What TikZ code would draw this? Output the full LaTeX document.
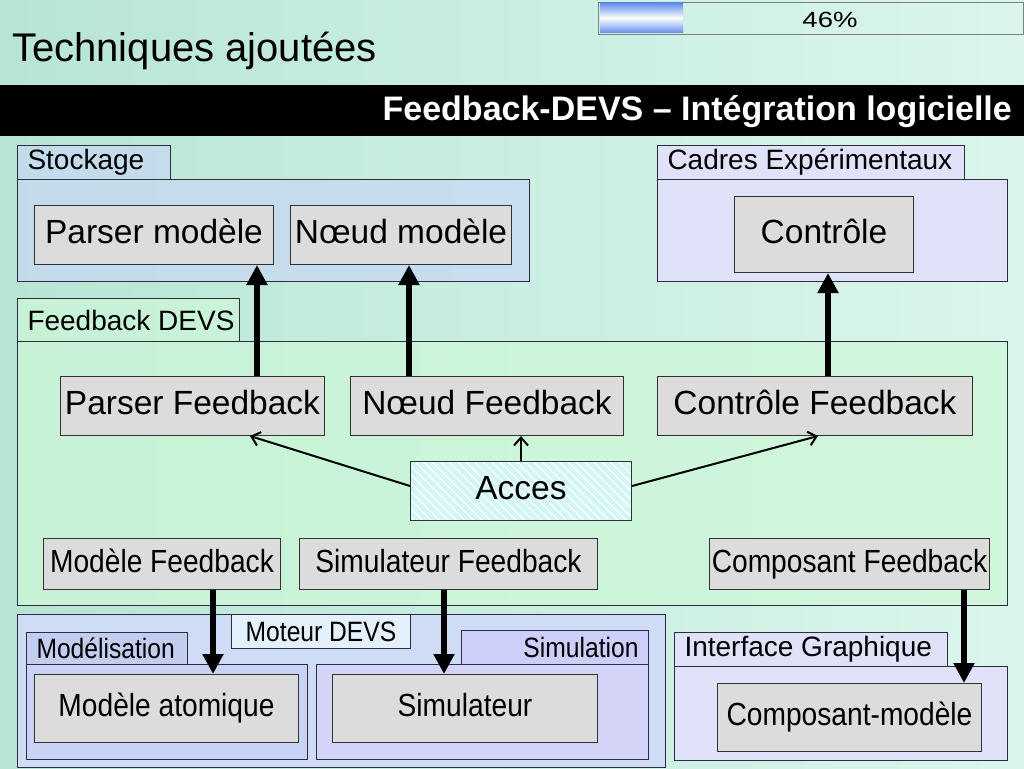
\documentclass[tikz,border=0pt]{standalone}
\usepackage{fontspec}
\setmainfont{Liberation Sans}
\newfontfamily\cfont[FakeStretch=0.88]{Liberation Sans}
\newfontfamily\wfont[FakeStretch=1.25]{Liberation Sans}
\usetikzlibrary{arrows.meta,patterns.meta,calc}
\newcommand\myfs[1]{\fontsize{#1pt}{#1pt}\selectfont}
\definecolor{bgA}{RGB}{165,216,200}
\definecolor{bgB}{RGB}{196,236,222}
\definecolor{bgC}{RGB}{226,248,240}
\definecolor{bgD}{RGB}{242,255,252}
\definecolor{stkc}{RGB}{200,215,245}
\definecolor{cadc}{RGB}{224,226,250}
\definecolor{fbc}{RGB}{205,248,215}
\definecolor{motc}{RGB}{206,220,246}
\definecolor{modc}{RGB}{200,210,245}
\definecolor{modtc}{RGB}{195,205,240}
\definecolor{simc}{RGB}{212,212,248}
\definecolor{simtc}{RGB}{206,206,250}
\definecolor{mottc}{RGB}{228,240,252}
\definecolor{igc}{RGB}{224,226,250}
\definecolor{boxgray}{RGB}{220,220,220}
\definecolor{boxline}{RGB}{50,50,50}
\definecolor{grpline}{RGB}{45,45,60}
\definecolor{accc}{RGB}{210,246,246}
\definecolor{barblue}{RGB}{95,140,235}
\pgfdeclarehorizontalshading{bgshade}{100bp}{color(0bp)=(bgA); color(42bp)=(bgB); color(85bp)=(bgC); color(100bp)=(bgD)}
\tikzset{
  grp/.style={draw=grpline, line width=1pt, anchor=north west, inner sep=0pt},
  tab/.style={draw=grpline, line width=1pt, anchor=north west, inner xsep=10pt, inner ysep=0pt, font=\myfs{28}},
  bx/.style={draw=boxline, line width=1pt, fill=boxgray, anchor=north west, inner sep=0pt, text height=24.5pt, text depth=7pt, font=\myfs{33.5}},
  sbx/.style={bx, text height=23.4pt, text depth=6.7pt, font=\cfont\myfs{32}},
  big/.style={line width=5.5pt, -{Triangle[length=20pt,width=20pt]}},
  thinarr/.style={line width=2pt, -{Straight Barb[length=8pt,width=14pt]}}
}
\begin{document}
\begin{tikzpicture}[x=1pt,y=-1pt]
\useasboundingbox (0,0) rectangle (1024,768);
\shade[shading=bgshade] (0,0) rectangle (1024,768);
% header
\node[anchor=base west, font=\myfs{40}, inner sep=0pt] (title) at (12,62) {Techniques ajoutées};
\fill[black] (0,85) rectangle (1024,136);
\node[anchor=base east, font=\bfseries\myfs{34}, text=white, inner sep=0pt] (sub) at (1012,120) {Feedback-DEVS -- Intégration logicielle};
% progress bar
\node[draw=gray, line width=1pt, anchor=north west, minimum width=425pt, minimum height=32pt, inner sep=0pt] (bar) at (598,2) {};
\shade[top color=barblue, bottom color=barblue, middle color=white] (600,3) rectangle (683,33);
\node[anchor=base, font=\wfont\myfs{22}, inner sep=0pt] (pct) at (830,28) {46\%};
% groups
\node[grp, fill=stkc, fill opacity=0.7, minimum width=512pt, minimum height=102pt] (stk) at (17,179) {};
\node[tab, fill=stkc, fill opacity=0.7, text opacity=1, minimum height=34pt] (stktab) at (17,145) {\makebox[133pt][l]{Stockage}};
\node[grp, fill=cadc, minimum width=350pt, minimum height=102pt] (cad) at (657,179) {};
\node[tab, fill=cadc, minimum height=34pt] (cadtab) at (657,145) {\makebox[287pt][l]{Cadres Expérimentaux}};
\node[grp, fill=fbc, fill opacity=0.7, minimum width=990pt, minimum height=264pt] (fbd) at (17,341) {};
\node[tab, fill=fbc, fill opacity=0.7, text opacity=1, inner xsep=10pt, minimum height=43pt] (fbdtab) at (17,298) {\makebox[202pt][l]{Feedback DEVS}};
\node[grp, fill=motc, minimum width=648pt, minimum height=153pt] (mot) at (17,614) {};
\node[grp, fill=modc, minimum width=281pt, minimum height=95pt] (modl) at (26,664) {};
\node[grp, fill=simc, minimum width=332pt, minimum height=95pt] (simu) at (316,664) {};
\node[tab, fill=modtc, font=\cfont\myfs{28}, minimum height=32pt] (modtab) at (26,632) {\makebox[141pt][l]{Modélisation}};
\node[tab, fill=simtc, font=\cfont\myfs{28}, minimum height=34pt] (simtab) at (461,630) {\makebox[167pt][r]{Simulation}};
\node[tab, fill=mottc, font=\cfont\myfs{28}, minimum height=34pt] (mottab) at (231,614) {\makebox[159pt][c]{Moteur DEVS}};
\node[grp, fill=igc, minimum width=333pt, minimum height=94pt] (ig) at (674,666) {};
\node[tab, fill=igc, minimum height=34pt] (igtab) at (674,632) {\makebox[253pt][l]{Interface Graphique}};
% boxes
\node[bx, minimum width=239pt, minimum height=59pt] (pm) at (34,205) {Parser modèle};
\node[bx, minimum width=221pt, minimum height=59pt] (nm) at (290,205) {Nœud modèle};
\node[bx, minimum width=179pt, minimum height=76pt] (ctl) at (734,196) {Contrôle};
\node[bx, minimum width=264pt, minimum height=59pt] (pfb) at (60,376) {Parser Feedback};
\node[bx, minimum width=273pt, minimum height=59pt] (nfb) at (350,376) {Nœud Feedback};
\node[bx, minimum width=315pt, minimum height=59pt] (cfb) at (657,376) {Contrôle Feedback};
\node[bx, draw=none, fill=accc, postaction={pattern={Lines[angle=-45,distance=6pt,line width=1.2pt]}, pattern color=white}, postaction={draw=boxline, line width=1pt}, minimum width=221pt, minimum height=59pt] (acc) at (410,461) {Acces};
\node[sbx, minimum width=237pt, minimum height=51pt] (mfb) at (43,538) {Modèle Feedback};
\node[sbx, minimum width=298pt, minimum height=51pt] (sfb) at (299,538) {Simulateur Feedback};
\node[sbx, minimum width=280pt, minimum height=51pt] (cpf) at (709,538) {Composant Feedback};
\node[sbx, minimum width=264pt, minimum height=68pt] (ma) at (34,674) {Modèle atomique};
\node[sbx, minimum width=265pt, minimum height=68pt] (sim) at (332,674) {Simulateur};
\node[sbx, minimum width=264pt, minimum height=68pt] (cm) at (717,683) {Composant-modèle};
% thick arrows
\coordinate (a1) at ([xshift=197pt]pfb.north west);
\coordinate (a2) at ([xshift=59pt]nfb.north west);
\coordinate (a3) at ([xshift=171pt]cfb.north west);
\coordinate (a4) at ([xshift=170pt]mfb.south west);
\coordinate (a5) at ([xshift=145pt]sfb.south west);
\coordinate (a6) at ([xshift=255pt]cpf.south west);
\draw[big] (a1) -- (a1 |- pm.south);
\draw[big] (a2) -- (a2 |- nm.south);
\draw[big] (a3) -- (a3 |- ctl.south);
\draw[big] (a4) -- (a4 |- ma.north);
\draw[big] (a5) -- (a5 |- sim.north);
\draw[big] (a6) -- (a6 |- cm.north);
% thin arrows
\coordinate (t1) at ([xshift=190pt]pfb.south west);
\coordinate (t3) at ([xshift=161pt]cfb.south west);
\draw[thinarr] ([yshift=5pt]acc.west) -- (t1);
\draw[thinarr] (acc.north) -- (acc.north |- nfb.south);
\draw[thinarr] ([yshift=5pt]acc.east) -- (t3);
\end{tikzpicture}
\end{document}
